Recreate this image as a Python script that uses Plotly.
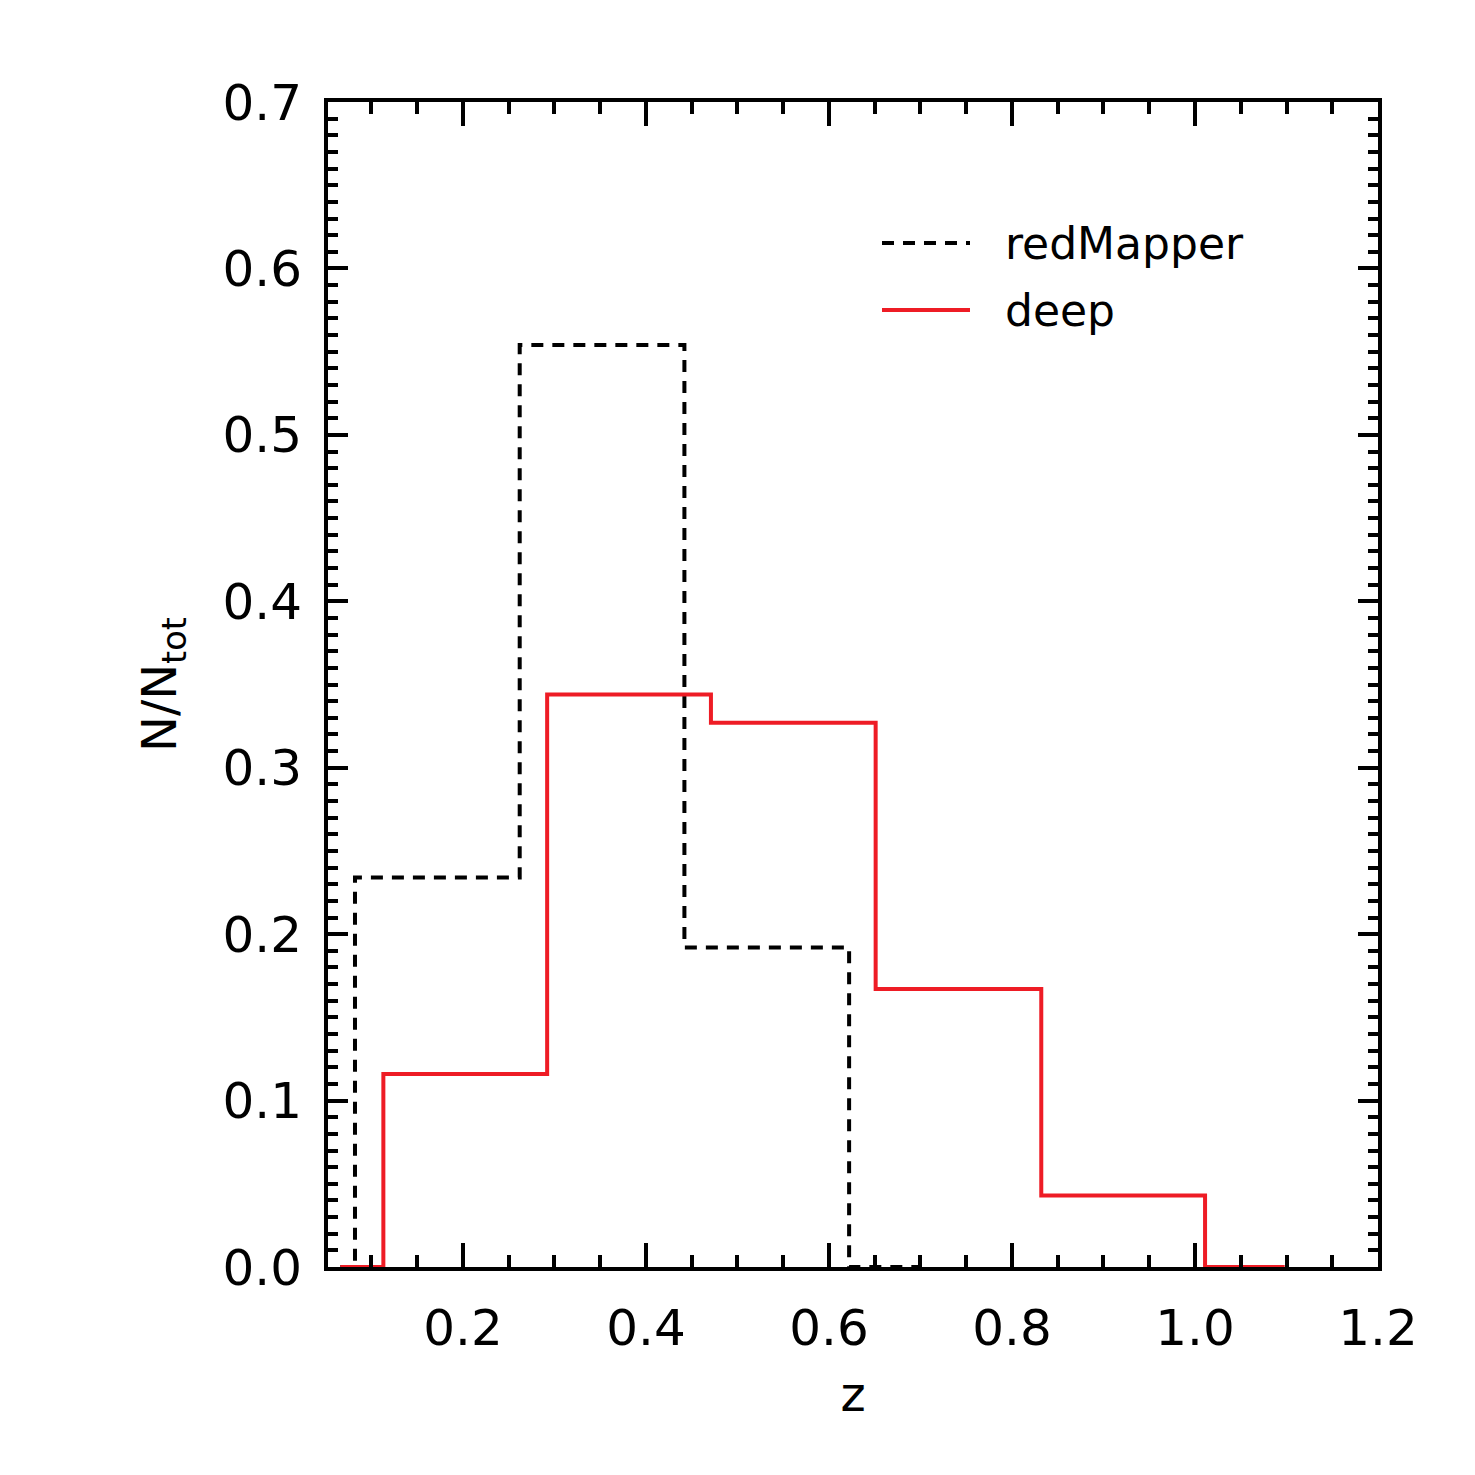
import plotly.graph_objects as go

# Data
rm_edges = [0.066, 0.082, 0.262, 0.442, 0.622, 0.700]
rm_values = [0.0, 0.234, 0.554, 0.192, 0.0, 0.0]

deep_edges = [0.066, 0.113, 0.292, 0.471, 0.651, 0.832, 1.011, 1.098]
deep_values = [0.0, 0.116, 0.344, 0.327, 0.167, 0.043, 0.0, 0.0]

x_ticks = [0.2, 0.4, 0.6, 0.8, 1.0, 1.2]
y_ticks = [0.0, 0.1, 0.2, 0.3, 0.4, 0.5, 0.6, 0.7]

FONT = "DejaVu Sans"

fig = go.Figure()
fig.add_trace(go.Scatter(x=rm_edges, y=rm_values, mode="lines", line_shape="hv",
                         line=dict(color="black", width=4, dash="12px,9px"),
                         name="redMapper", showlegend=False))
fig.add_trace(go.Scatter(x=deep_edges, y=deep_values, mode="lines", line_shape="hv",
                         line=dict(color="#ee1c25", width=4),
                         name="deep", showlegend=False))

# manual legend
leg = [("redMapper", "black", "12px,9px", 243), ("deep", "#ee1c25", "solid", 310)]
for name, col, dash, ypx in leg:
    yp = 1 - (ypx - 102) / (1267 - 102)
    x0 = (882 - 328) / (1378 - 328)
    x1 = (970 - 328) / (1378 - 328)
    fig.add_shape(type="line", xref="paper", yref="paper", x0=x0, x1=x1, y0=yp, y1=yp,
                  line=dict(color=col, width=4, dash=dash))
    fig.add_annotation(xref="paper", yref="paper", x=(1003 - 328) / (1378 - 328), y=yp,
                       text=name, showarrow=False, xanchor="left", yanchor="middle",
                       font=dict(family=FONT, size=44, color="black"))

axis_common = dict(showline=True, linecolor="black", linewidth=4, mirror="allticks",
                   ticks="inside", tickcolor="black", tickwidth=3.5,
                   showgrid=False, zeroline=False,
                   tickfont=dict(family=FONT, size=50, color="black"))

fig.update_xaxes(range=[0.0525, 1.2], tickvals=x_ticks, ticktext=[f"{v:.1f}" for v in x_ticks],
                 ticklen=24, ticklabelstandoff=14,
                 minor=dict(dtick=0.05, tick0=0.0, ticks="inside", ticklen=12, tickwidth=3.5,
                            tickcolor="black"),
                 title=dict(text="z", font=dict(family=FONT, size=48, color="black"), standoff=22),
                 **axis_common)
fig.update_yaxes(range=[0, 0.7], tickvals=y_ticks, ticktext=[f"{v:.1f}" for v in y_ticks],
                 ticklen=20, ticklabelstandoff=12,
                 minor=dict(dtick=0.01, tick0=0.0, ticks="inside", ticklen=10, tickwidth=3.5,
                            tickcolor="black"),
                 title=dict(text="N/N<sub>tot</sub>", font=dict(family=FONT, size=48, color="black"),
                            standoff=32),
                 **axis_common)

fig.update_layout(width=1475, height=1475, plot_bgcolor="white", paper_bgcolor="white",
                  margin=dict(l=328, r=97, t=102, b=208), showlegend=False)

fig.write_html("out.html")
